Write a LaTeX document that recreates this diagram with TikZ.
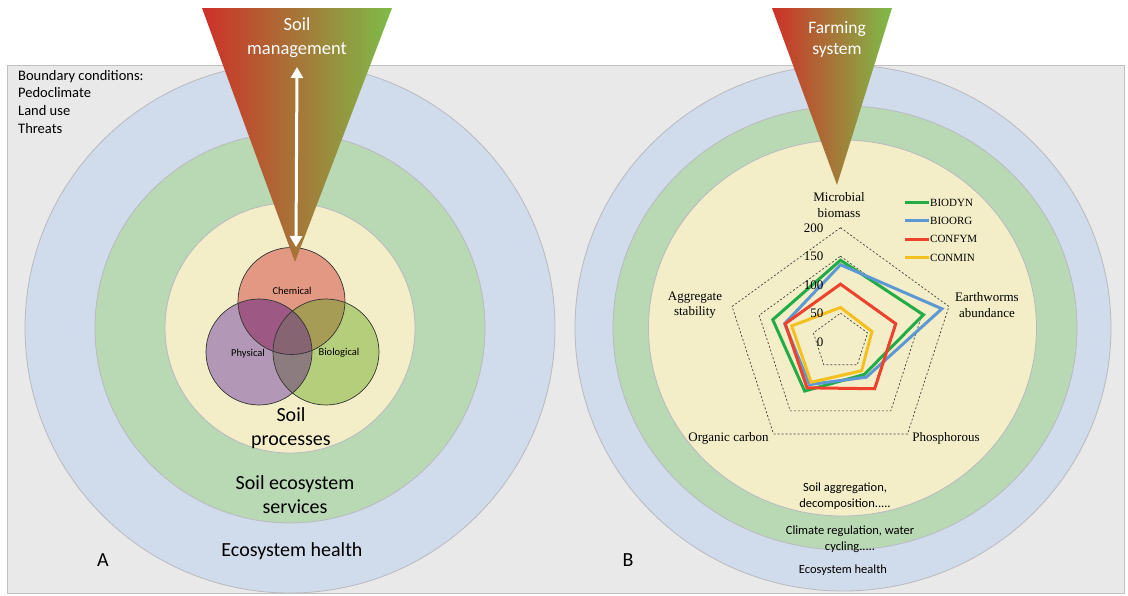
\documentclass[tikz,border=0pt]{standalone}
\usepackage{fontspec}
\setmainfont{Carlito}
\newfontfamily\tnr{Liberation Serif}
\usetikzlibrary{arrows.meta}

\definecolor{panelgray}{RGB}{233,233,233}
\definecolor{panelline}{RGB}{192,192,192}
\definecolor{ringblue}{RGB}{208,220,235}
\definecolor{ringgreen}{RGB}{185,216,180}
\definecolor{ringyellow}{RGB}{243,238,200}
\definecolor{ringline}{RGB}{185,185,192}
\definecolor{mgmtred}{RGB}{206,48,40}
\definecolor{mgmtgreen}{RGB}{126,188,72}
\definecolor{chemc}{RGB}{227,152,131}
\definecolor{physc}{RGB}{178,152,182}
\definecolor{bioc}{RGB}{181,206,124}
\definecolor{chemphys}{RGB}{158,88,132}
\definecolor{chembio}{RGB}{166,156,86}
\definecolor{physbio}{RGB}{140,124,128}
\definecolor{allthree}{RGB}{134,100,114}
\definecolor{sBiodyn}{RGB}{34,172,72}
\definecolor{sBioorg}{RGB}{92,152,212}
\definecolor{sConfym}{RGB}{238,66,44}
\definecolor{sConmin}{RGB}{244,192,30}

\tikzset{
  ring/.style={draw=ringline, line width=0.8pt},
  venn/.style={draw=black!80, line width=0.7pt},
  bigtext/.style={font=\fontsize{20}{24}\selectfont, align=center, text=black},
  smalltext/.style={font=\fontsize{12.5}{16}\selectfont, align=center, text=black},
  venntext/.style={font=\fontsize{10.5}{12}\selectfont, text=black},
  headtext/.style={align=center, text=white},
  grid/.style={draw=black!75, line width=0.7pt, dash pattern=on 2pt off 2pt},
  series/.style={line width=3pt, line join=miter},
  axislabel/.style={font=\tnr\fontsize{13}{15.5}\selectfont, align=center, text=black},
  ticklabel/.style={font=\tnr\fontsize{13}{15}\selectfont, anchor=east, text=black},
  legendtext/.style={font=\tnr\fontsize{11}{13}\selectfont, anchor=west, text=black},
}

\begin{document}
\begin{tikzpicture}[x=1pt, y=-1pt]
\useasboundingbox (0,0) rectangle (1128,595);
\fill[white] (0,0) rectangle (1128,595);

% background panel
\filldraw[fill=panelgray, draw=panelline, line width=1pt] (7,65) rectangle (1124,593);

% ---------- panel A: nested rings ----------
\filldraw[ring, fill=ringblue]   (290,328) circle[radius=265pt];
\filldraw[ring, fill=ringgreen]  (290,328) circle[radius=195pt];
\filldraw[ring, fill=ringyellow] (290,328) circle[radius=125pt];

% ---------- panel B: nested rings ----------
\filldraw[ring, fill=ringblue]   (843,328) ellipse[x radius=268pt, y radius=263pt];
\filldraw[ring, fill=ringgreen]  (845,328) ellipse[x radius=232pt, y radius=222pt];
\filldraw[ring, fill=ringyellow] (842.5,328) ellipse[x radius=194pt, y radius=188pt];

% ---------- Venn diagram of soil processes ----------
\coordinate (cC) at (291.5,301);
\coordinate (cP) at (259,352);
\coordinate (cB) at (326,352);
\fill[chemc] (cC) circle[radius=53.5pt];
\fill[physc] (cP) circle[radius=53pt];
\fill[bioc]  (cB) circle[radius=53pt];
\begin{scope}
  \clip (cC) circle[radius=53.5pt];
  \fill[chemphys] (cP) circle[radius=53pt];
\end{scope}
\begin{scope}
  \clip (cC) circle[radius=53.5pt];
  \fill[chembio] (cB) circle[radius=53pt];
\end{scope}
\begin{scope}
  \clip (cP) circle[radius=53pt];
  \fill[physbio] (cB) circle[radius=53pt];
\end{scope}
\begin{scope}
  \clip (cC) circle[radius=53.5pt];
  \clip (cP) circle[radius=53pt];
  \fill[allthree] (cB) circle[radius=53pt];
\end{scope}
\draw[venn] (cC) circle[radius=53.5pt];
\draw[venn] (cP) circle[radius=53pt];
\draw[venn] (cB) circle[radius=53pt];
\node[venntext] (chem) at (292,291) {Chemical};
\node[venntext] (phys) at (248,354) {Physical};
\node[venntext] (biol) at (339,353) {Biological};

% ---------- management funnels ----------
\shade[left color=mgmtred, right color=mgmtgreen] (202,8) -- (392,8) -- (295,262) -- cycle;
\shade[left color=mgmtred, right color=mgmtgreen] (772,8) -- (892,8) -- (837,185) -- cycle;

\coordinate (armtop) at (297,67);
\coordinate (armbot) at (296,247);
\draw[white, line width=3pt,
  {Triangle[width=12pt,length=11pt]}-{Triangle[width=12pt,length=11pt]}] (armtop) -- (armbot);

\node[headtext, font=\fontsize{18.5}{24}\selectfont] (mgmt) at (297,38) {Soil\\management};
\node[headtext, font=\fontsize{17.5}{21}\selectfont] (farm) at (837,39) {Farming\\system};

% ---------- panel A texts ----------
\node[font=\fontsize{14.5}{17.6}\selectfont, align=left, anchor=north west, text=black, inner sep=0pt]
  (bound) at (18,70) {Boundary conditions:\\Pedoclimate\\Land use\\Threats};
\node[bigtext] (proc) at (291,428) {Soil\\processes};
\node[bigtext] (serv) at (295,495) {Soil ecosystem\\services};
\node[bigtext] (healthA) at (292,551) {Ecosystem health};
\node[bigtext] (labA) at (103,560) {A};
\node[bigtext] (labB) at (628,560) {B};

% ---------- panel B texts ----------
\node[smalltext] (aggr) at (845,496) {Soil aggregation,\\decomposition.....};
\node[smalltext] (clim) at (850,539) {Climate regulation, water\\cycling.....};
\node[smalltext] (healthB) at (843,570) {Ecosystem health};

% ---------- radar chart ----------
\def\k{0.57}
\begin{scope}[shift={(840.5,341.7)}, yscale=-1]
  \foreach \v in {50,100,150,200}
    \draw[grid] (90:{\v*\k}) -- (18:{\v*\k}) -- (-54:{\v*\k}) -- (-126:{\v*\k}) -- (162:{\v*\k}) -- cycle;
  % BIODYN
  \draw[series, sBiodyn] (90:{143*\k}) -- (18:{153*\k}) -- (-54:{71*\k}) -- (-126:{107*\k}) -- (162:{125*\k}) -- cycle;
  % BIOORG
  \draw[series, sBioorg] (90:{135*\k}) -- (18:{187*\k}) -- (-54:{77*\k}) -- (-126:{93*\k}) -- (162:{103*\k}) -- cycle;
  % CONFYM
  \draw[series, sConfym] (90:{101*\k}) -- (18:{102*\k}) -- (-54:{102*\k}) -- (-126:{100*\k}) -- (162:{102*\k}) -- cycle;
  % CONMIN
  \draw[series, sConmin] (90:{60*\k}) -- (18:{58*\k}) -- (-54:{63*\k}) -- (-126:{88*\k}) -- (162:{90*\k}) -- cycle;
\end{scope}

\node[ticklabel] (t200) at (827,228) {200};
\node[ticklabel] (t150) at (827,256.5) {150};
\node[ticklabel] (t100) at (827,285) {100};
\node[ticklabel] (t50)  at (827,313.5) {50};
\node[ticklabel] (t0)   at (827,342) {0};

\node[axislabel] (axMB) at (839,205) {Microbial\\biomass};
\node[axislabel] (axEW) at (987,305) {Earthworms\\abundance};
\node[axislabel] (axPH) at (946,438.5) {Phosphorous};
\node[axislabel] (axOC) at (728.5,438.5) {Organic carbon};
\node[axislabel] (axAS) at (695,305) {Aggregate\\stability};

% legend
\foreach \y/\c/\t/\n in {202.7/sBiodyn/BIODYN/lgA, 220.7/sBioorg/BIOORG/lgB, 239.3/sConfym/CONFYM/lgC, 257.7/sConmin/CONMIN/lgD}{
  \coordinate (\n s) at (905,\y);
  \node[legendtext, inner sep=1pt] (\n) at (929,\y) {\t};
  \draw[\c, line width=3pt] (\n s) -- (\n.west);
}
\end{tikzpicture}
\end{document}
